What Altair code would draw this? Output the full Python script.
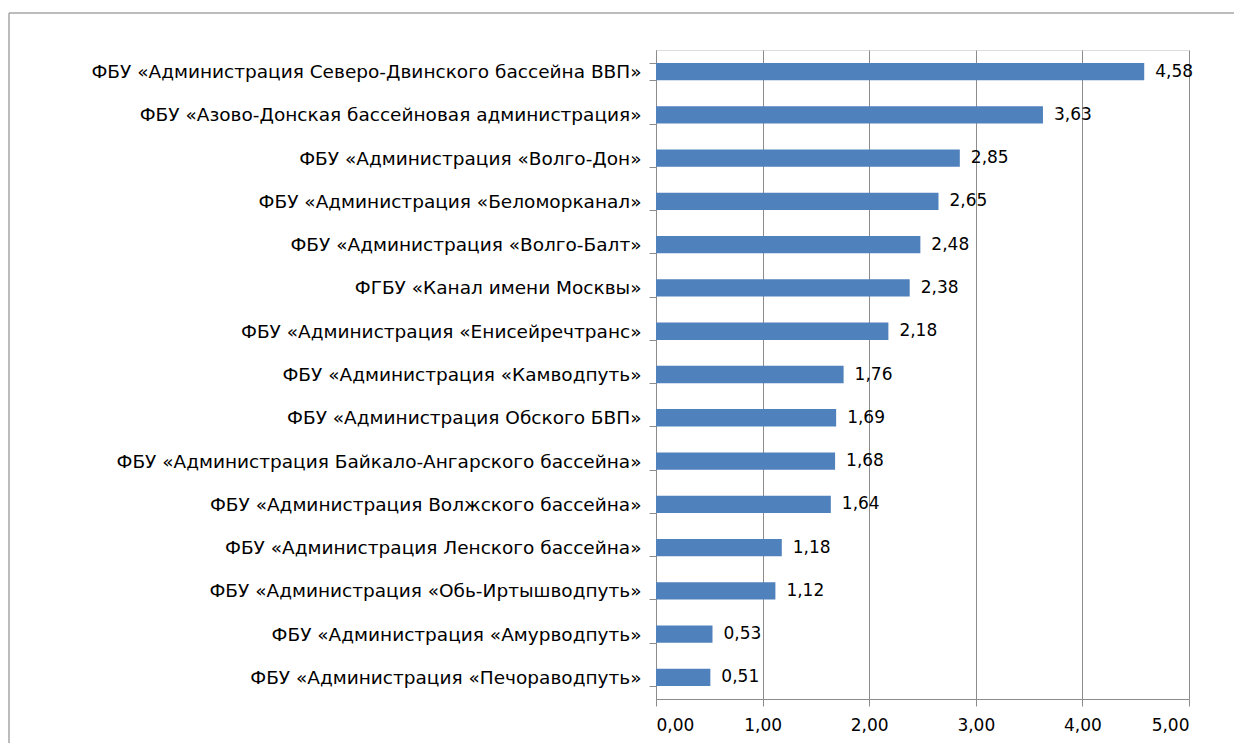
import altair as alt
import pandas as pd

categories = [
    "ФБУ «Администрация Северо-Двинского  бассейна ВВП»",
    "ФБУ «Азово-Донская бассейновая администрация»",
    "ФБУ «Администрация «Волго-Дон»",
    "ФБУ «Администрация «Беломорканал»",
    "ФБУ «Администрация «Волго-Балт»",
    "ФГБУ «Канал имени Москвы»",
    "ФБУ «Администрация «Енисейречтранс»",
    "ФБУ «Администрация «Камводпуть»",
    "ФБУ «Администрация Обского БВП»",
    "ФБУ «Администрация Байкало-Ангарского бассейна»",
    "ФБУ «Администрация Волжского бассейна»",
    "ФБУ «Администрация Ленского бассейна»",
    "ФБУ «Администрация «Обь-Иртышводпуть»",
    "ФБУ «Администрация «Амурводпуть»",
    "ФБУ «Администрация «Печораводпуть»",
]
values = [4.58, 3.63, 2.85, 2.65, 2.48, 2.38, 2.18, 1.76, 1.69, 1.68, 1.64, 1.18, 1.12, 0.53, 0.51]
x_ticks = [0, 1, 2, 3, 4, 5]

df = pd.DataFrame({"cat": categories, "val": values})

FONT = "DejaVu Sans"
GRAY = "#8c8c8c"
W, H = 533, 649
PAD_L, PAD_T = 648, 42
TOTAL_W, TOTAL_H = 1226, 735

y_enc = alt.Y(
    "cat:N",
    sort=None,
    title=None,
    scale=alt.Scale(paddingInner=0.6, paddingOuter=0.3),
    axis=alt.Axis(
        domainColor=GRAY,
        tickColor=GRAY,
        tickSize=7,
        tickBand="extent",
        labelPadding=8,
        labelLimit=700,
        labelFont=FONT,
        labelFontSize=18.5,
        labelColor="black",
        grid=False,
    ),
)

bars = alt.Chart(df).mark_bar(color="#4F81BD").encode(
    x=alt.X(
        "val:Q",
        title=None,
        scale=alt.Scale(domain=[0, 5], nice=False),
        axis=alt.Axis(
            values=x_ticks,
            labelExpr="replace(format(datum.value, '.2f'), '.', ',')",
            domainColor=GRAY,
            tickColor=GRAY,
            tickSize=7,
            labelPadding=11,
            labelFont=FONT,
            labelFontSize=17,
            labelColor="black",
            grid=True,
            gridColor=GRAY,
            gridOpacity=1,
        ),
    ),
    y=y_enc,
)

labels = alt.Chart(df).transform_calculate(
    lbl="replace(format(datum.val, '.2f'), '.', ',')"
).mark_text(align="left", baseline="middle", dx=11, font=FONT, fontSize=17, color="black").encode(
    x="val:Q",
    y=alt.Y("cat:N", sort=None),
    text="lbl:N",
)

frame_df = pd.DataFrame({"a": [0]})
frame_top = alt.Chart(frame_df).mark_rule(stroke="#a6a6a6", strokeWidth=1.5).encode(
    x=alt.value(-PAD_L + 1),
    x2=alt.value(TOTAL_W),
    y=alt.value(-PAD_T + 5),
)
frame_left = alt.Chart(frame_df).mark_rule(stroke="#a6a6a6", strokeWidth=1.5).encode(
    x=alt.value(-PAD_L + 1),
    y=alt.value(-PAD_T + 5),
    y2=alt.value(TOTAL_H),
)

chart = alt.layer(frame_top, frame_left, bars, labels).properties(
    width=W,
    height=H,
    padding={"left": PAD_L, "top": PAD_T, "right": TOTAL_W - PAD_L - W, "bottom": TOTAL_H - PAD_T - H},
    autosize=alt.AutoSizeParams(type="none"),
).configure_view(stroke=None).configure(background="white")

chart.save("out.html", embed_options={"renderer": "svg", "actions": False})
